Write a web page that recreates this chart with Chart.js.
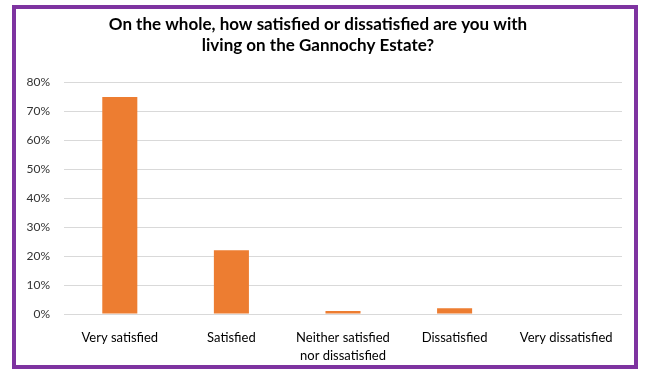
<!DOCTYPE html>
<html>
<head>
<meta charset="utf-8">
<script src="https://cdn.jsdelivr.net/npm/chart.js@4/dist/chart.umd.min.js"></script>
<style>
  html, body { margin: 0; padding: 0; background: #ffffff; }
  #wrap { position: relative; width: 646px; height: 372px; }
  #frame { position: absolute; left: 12px; top: 5px; width: 618px; height: 356px; border: 4px solid #7E33A0; pointer-events: none; }
  canvas { position: absolute; left: 0; top: 0; }
</style>
</head>
<body>
<div id="wrap">
  <canvas id="c" width="646" height="372"></canvas>
  <div id="frame"></div>
</div>
<script>
const titleLines = ["On the whole, how satisfied or dissatisfied are you with", "living on the Gannochy Estate?"];
const categories = ["Very satisfied", "Satisfied", ["Neither satisfied", "nor dissatisfied"], "Dissatisfied", "Very dissatisfied"];
const percentValues = [75, 22, 1, 2, 0];
const yTickMax = 80;
const yTickStep = 10;

new Chart(document.getElementById('c'), {
  type: 'bar',
  data: {
    labels: categories,
    datasets: [{
      data: percentValues,
      backgroundColor: '#ED7D31',
      borderWidth: 0,
      categoryPercentage: 1,
      barPercentage: 0.314
    }]
  },
  options: {
    responsive: false,
    animation: false,
    devicePixelRatio: 1,
    layout: { padding: { left: 14, right: 24, top: 0, bottom: 8 } },
    plugins: {
      legend: { display: false },
      tooltip: { enabled: false },
      title: {
        display: true,
        text: titleLines,
        color: '#000000',
        font: { family: 'Lato', size: 17, weight: 'bold', lineHeight: 1.25 },
        padding: { top: 14, bottom: 26 }
      }
    },
    scales: {
      x: {
        grid: { display: false },
        border: { display: false },
        ticks: {
          color: '#000000',
          font: { family: 'Lato', size: 13, lineHeight: 1.4 },
          padding: 7,
          maxRotation: 0,
          autoSkip: false
        },
        afterFit: function (s) { s.height = 50; }
      },
      y: {
        min: 0,
        max: yTickMax,
        grid: { color: '#D9D9D9', lineWidth: 1, drawTicks: false },
        border: { display: false },
        ticks: {
          stepSize: yTickStep,
          color: '#333333',
          font: { family: 'Lato', size: 12 },
          padding: 14,
          callback: function (v) { return v + '%'; }
        },
        afterFit: function (s) { s.width = 50; }
      }
    }
  }
});
</script>
</body>
</html>
